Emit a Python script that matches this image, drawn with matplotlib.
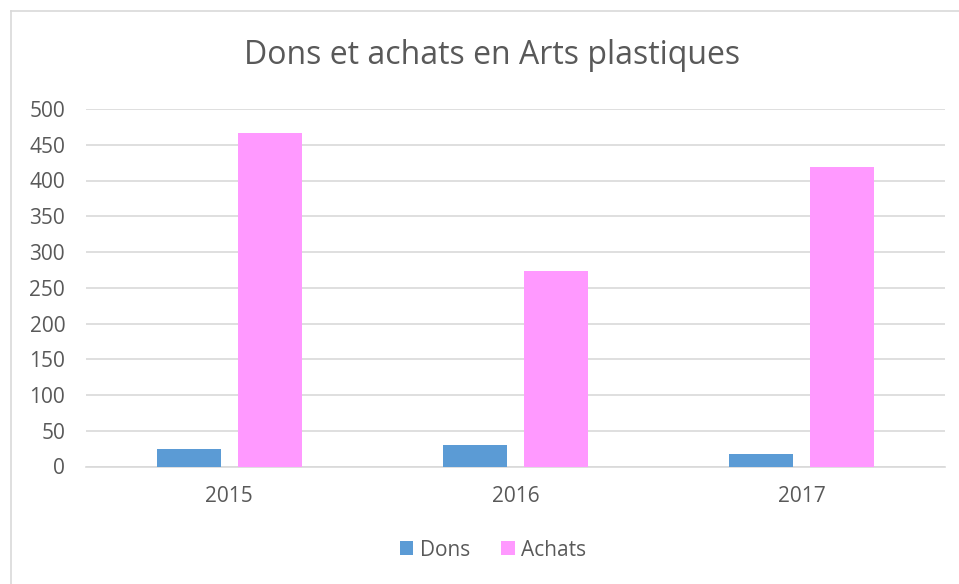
import numpy as np
import matplotlib
matplotlib.use('Agg')
import matplotlib.pyplot as plt
from matplotlib.lines import Line2D

# data
years = ['2015', '2016', '2017']
dons = [24, 30, 17]
achats = [466, 273, 419]

blue_color = '#5B9BD5'
pink_color = '#FF99FF'
text_color = '#595959'
grid_color = '#D9D9D9'

plt.rcParams['font.family'] = ['Open Sans', 'DejaVu Sans']

fig = plt.figure(figsize=(9.59, 5.84), dpi=100)
ax = fig.add_axes([86 / 959, 1 - 466.5 / 584, 859 / 959, 357.5 / 584])

x = np.arange(len(years))
w = 0.223
gap = 0.06
ax.bar(x - (w + gap) / 2, dons, width=w, color=blue_color, label='Dons', zorder=3)
ax.bar(x + (w + gap) / 2, achats, width=w, color=pink_color, label='Achats', zorder=3)

ax.set_xlim(-0.5, 2.5)
ax.set_ylim(0, 500)
ax.set_yticks(range(0, 501, 50))
ax.set_xticks(x)
ax.set_xticklabels(years)
ax.yaxis.grid(True, color=grid_color, linewidth=1.2, zorder=0)
ax.tick_params(axis='both', length=0, labelsize=15, colors=text_color)
ax.tick_params(axis='y', pad=15)
ax.tick_params(axis='x', pad=14)
for s in ['top', 'right', 'left']:
    ax.spines[s].set_visible(False)
ax.spines['bottom'].set_color(grid_color)
ax.spines['bottom'].set_linewidth(1.2)

fig.text(492 / 959, 1 - 55 / 584, 'Dons et achats en Arts plastiques',
         ha='center', va='center', fontsize=23, color=text_color)

fig.legend(loc='center', bbox_to_anchor=(493 / 959, 1 - 550 / 584), ncol=2,
           frameon=False, fontsize=15, labelcolor=text_color,
           handlelength=0.65, handleheight=0.65, handletextpad=0.3, columnspacing=1.5)

# chart border (only left and top edges fall inside the picture)
fig.add_artist(Line2D([10.5 / 959, 10.5 / 959], [0, 1 - 10.5 / 584],
                      transform=fig.transFigure, color=grid_color, linewidth=1.2))
fig.add_artist(Line2D([10.5 / 959, 1], [1 - 10.5 / 584, 1 - 10.5 / 584],
                      transform=fig.transFigure, color=grid_color, linewidth=1.2))

fig.savefig('out.png', dpi=100, facecolor='white')
